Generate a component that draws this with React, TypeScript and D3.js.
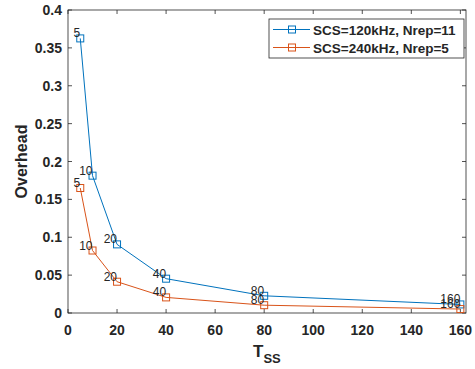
import { useEffect, useRef } from "react"
import * as d3 from "d3"

const tss = [5, 10, 20, 40, 80, 160]
const overhead120 = [0.3625, 0.1813, 0.0906, 0.0453, 0.0227, 0.0113]
const overhead240 = [0.165, 0.0825, 0.0413, 0.0206, 0.0103, 0.0052]
const seriesNames = ["SCS=120kHz, Nrep=11", "SCS=240kHz, Nrep=5"]
const xTicks = [0, 20, 40, 60, 80, 100, 120, 140, 160]
const yTicks = [0, 0.05, 0.1, 0.15, 0.2, 0.25, 0.3, 0.35, 0.4]

export default function App() {
  const svgRef = useRef<SVGSVGElement>(null)

  useEffect(() => {
    if (!svgRef.current) return
    const width = 475
    const height = 369
    const left = 68
    const right = 466
    const top = 10
    const bottom = 313

    const svg = d3.select(svgRef.current).attr("width", width).attr("height", height)
    svg.selectAll("*").remove()

    const x = d3.scaleLinear().domain([0, 162.3]).range([left, right])
    const y = d3.scaleLinear().domain([0, 0.4]).range([bottom, top])

    svg.append("rect").attr("width", width).attr("height", height).attr("fill", "#fff")

    const font = "'Liberation Sans', Arial, sans-serif"
    const axisColor = "#262626"

    // box
    svg.append("rect")
      .attr("x", left).attr("y", top)
      .attr("width", right - left).attr("height", bottom - top)
      .attr("fill", "none").attr("stroke", axisColor).attr("stroke-width", 0.8)

    // ticks on all four sides, pointing in
    xTicks.forEach((t) => {
      const px = x(t)
      svg.append("line").attr("x1", px).attr("x2", px).attr("y1", bottom).attr("y2", bottom - 4)
        .attr("stroke", axisColor).attr("stroke-width", 0.8)
      svg.append("line").attr("x1", px).attr("x2", px).attr("y1", top).attr("y2", top + 4)
        .attr("stroke", axisColor).attr("stroke-width", 0.8)
      svg.append("text").attr("x", px).attr("y", bottom + 22)
        .attr("text-anchor", "middle").attr("font-family", font).attr("font-weight", "bold")
        .attr("font-size", 14).attr("fill", axisColor).text(String(t))
    })
    yTicks.forEach((t) => {
      const py = y(t)
      svg.append("line").attr("x1", left).attr("x2", left + 4).attr("y1", py).attr("y2", py)
        .attr("stroke", axisColor).attr("stroke-width", 0.8)
      svg.append("line").attr("x1", right).attr("x2", right - 4).attr("y1", py).attr("y2", py)
        .attr("stroke", axisColor).attr("stroke-width", 0.8)
      svg.append("text").attr("x", left - 6).attr("y", py + 5)
        .attr("text-anchor", "end").attr("font-family", font).attr("font-weight", "bold")
        .attr("font-size", 14).attr("fill", axisColor).text(String(t))
    })

    // axis labels
    svg.append("text")
      .attr("transform", `translate(27,${(top + bottom) / 2}) rotate(-90)`)
      .attr("text-anchor", "middle").attr("font-family", font).attr("font-weight", "bold")
      .attr("font-size", 16).attr("fill", axisColor).text("Overhead")
    const xl = svg.append("text")
      .attr("x", 253).attr("y", 357)
      .attr("font-family", font).attr("font-weight", "bold")
      .attr("font-size", 17).attr("fill", axisColor)
    xl.append("tspan").text("T")
    xl.append("tspan").attr("dy", 6).attr("font-size", 13).text("SS")

    const series = [
      { values: overhead120, color: "#0072BD" },
      { values: overhead240, color: "#D95319" },
    ]
    const line = d3.line<[number, number]>().x((d) => x(d[0])).y((d) => y(d[1]))

    series.forEach((s) => {
      const pts = tss.map((t, i) => [t, s.values[i]] as [number, number])
      svg.append("path").attr("d", line(pts) || "")
        .attr("fill", "none").attr("stroke", s.color).attr("stroke-width", 1)
      pts.forEach((p) => {
        svg.append("rect")
          .attr("x", x(p[0]) - 3.5).attr("y", y(p[1]) - 3.5)
          .attr("width", 7).attr("height", 7)
          .attr("fill", "none").attr("stroke", s.color).attr("stroke-width", 1)
        svg.append("text")
          .attr("x", x(p[0])).attr("y", y(p[1]) - 1)
          .attr("text-anchor", "end").attr("font-family", font)
          .attr("font-size", 12).attr("fill", axisColor).text(String(p[0]))
      })
    })

    // legend
    const lg = svg.append("g")
    lg.append("rect").attr("x", 269).attr("y", 19).attr("width", 195).attr("height", 39)
      .attr("fill", "#fff").attr("stroke", axisColor).attr("stroke-width", 0.8)
    series.forEach((s, i) => {
      const ly = 29.5 + i * 18
      lg.append("line").attr("x1", 273).attr("x2", 310).attr("y1", ly).attr("y2", ly)
        .attr("stroke", s.color).attr("stroke-width", 1)
      lg.append("rect").attr("x", 288.5).attr("y", ly - 3.5).attr("width", 7).attr("height", 7)
        .attr("fill", "none").attr("stroke", s.color).attr("stroke-width", 1)
      lg.append("text").attr("x", 313).attr("y", ly + 5)
        .attr("font-family", font).attr("font-weight", "bold").attr("font-size", 13.5)
        .attr("fill", axisColor).text(seriesNames[i])
    })
  }, [])

  return <svg ref={svgRef} style={{ position: "absolute", left: 0, top: 0 }} />
}
